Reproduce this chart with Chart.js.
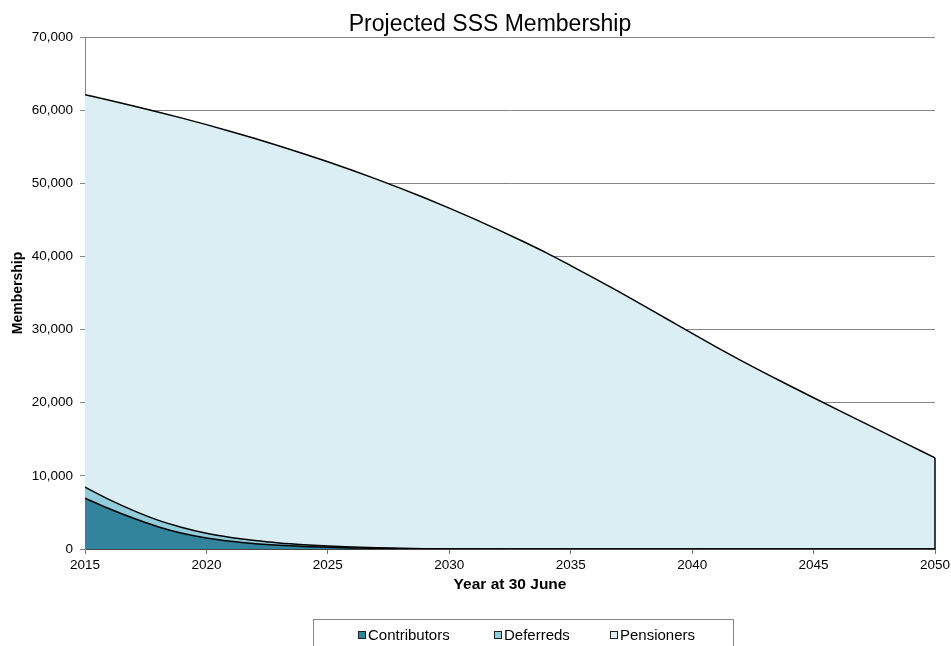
<!DOCTYPE html>
<html>
<head>
<meta charset="utf-8">
<script src="https://cdn.jsdelivr.net/npm/chart.js@4.4.1/dist/chart.umd.min.js"></script>
<style>
    html, body { margin: 0; padding: 0; background: #fff; overflow: hidden; }
    #wrap { position: relative; width: 951px; height: 646px; font-family: 'Liberation Sans', Arial, sans-serif; }
    #title { position: absolute; left: 0; top: 10px; width: 980px; text-align: center; font-size: 23px; color: #000; }
    #legend { position: absolute; left: 313px; top: 619px; width: 421px; height: 40px; border: 1px solid #888; box-sizing: border-box; font-size: 15px; }
    .item { position: absolute; top: 6px; display: flex; align-items: center; }
    .swatch { width: 6px; height: 6px; border: 1px solid #222; margin-right: 2px; }
</style>
</head>
<body>
<div id="wrap">
    <canvas id="chart" width="951" height="646"></canvas>
    <div id="title">Projected SSS Membership</div>
    <div id="legend"></div>
</div>
<script>
// Data (members at 30 June)
const years = [2015, 2016, 2017, 2018, 2019, 2020, 2021, 2022, 2023, 2024, 2025, 2026, 2027, 2028, 2029, 2030,
    2031, 2032, 2033, 2034, 2035, 2036, 2037, 2038, 2039, 2040, 2041, 2042, 2043, 2044, 2045, 2046, 2047, 2048, 2049, 2050];

const contributors = [6950, 5500, 4200, 3050, 2150, 1500, 1050, 730, 500, 340, 225, 145, 90, 50, 25, 10,
    0, 0, 0, 0, 0, 0, 0, 0, 0, 0, 0, 0, 0, 0, 0, 0, 0, 0, 0, 0];

const deferreds = [1500, 1250, 1050, 900, 800, 650, 530, 420, 330, 250, 175, 115, 75, 45, 20, 10,
    0, 0, 0, 0, 0, 0, 0, 0, 0, 0, 0, 0, 0, 0, 0, 0, 0, 0, 0, 0];

// Total membership line, pensioners are the remainder
const totals = [62100, 61350, 60570, 59760, 58910, 58020, 57090, 56120, 55110, 54050, 52940, 51780, 50570, 49310, 47990, 46610,
    45170, 43670, 42110, 40490, 38750, 36970, 35150, 33280, 31380, 29480, 27610, 25800, 24050, 22350, 20680, 19020, 17370, 15730, 14100, 12470];

const pensioners = totals.map((t, i) => t - contributors[i] - deferreds[i]);

const yTicks = { min: 0, max: 70000, step: 10000 };
const xTicks = { min: 2015, max: 2050, step: 5 };

const seriesNames = ['Contributors', 'Deferreds', 'Pensioners'];
const seriesColors = ['#31849b', '#92cddc', '#daeef3'];
const seriesValues = [contributors, deferreds, pensioners];

const FONT = "'Liberation Sans', Arial, sans-serif";

// Excel closes the area with a vertical edge at the last year
const rightEdge = {
    id: 'rightEdge',
    afterDatasetsDraw(chart) {
        const { ctx, scales } = chart;
        const last = years.length - 1;
        const x = scales.x.getPixelForValue(years[last]);
        const y0 = scales.y.getPixelForValue(0);
        const y1 = scales.y.getPixelForValue(totals[last]);
        ctx.save();
        ctx.strokeStyle = '#000';
        ctx.lineWidth = 1.5;
        ctx.beginPath();
        ctx.moveTo(x, y0);
        ctx.lineTo(x, y1);
        ctx.stroke();
        ctx.restore();
    }
};

const datasets = seriesNames.map((name, i) => ({
    label: name,
    data: years.map((yr, j) => ({ x: yr, y: seriesValues[i][j] })),
    backgroundColor: seriesColors[i],
    borderColor: '#000',
    borderWidth: 1.5,
    pointRadius: 0,
    cubicInterpolationMode: 'monotone',
    fill: i === 0 ? 'origin' : '-1'
}));

new Chart(document.getElementById('chart'), {
    type: 'line',
    data: { datasets },
    plugins: [rightEdge],
    options: {
        responsive: false,
        animation: false,
        layout: { padding: { top: 37, right: 16, bottom: 51, left: 0 } },
        plugins: {
            legend: { display: false },
            title: { display: false },
            tooltip: { enabled: false }
        },
        scales: {
            x: {
                type: 'linear',
                min: xTicks.min,
                max: xTicks.max,
                afterFit: (s) => {
                    s.height = 46;
                    // let the last tick label spill into the right padding
                    s.paddingLeft = 0;
                    s.paddingRight = 0;
                },
                ticks: {
                    stepSize: xTicks.step,
                    color: '#000',
                    padding: 3,
                    maxRotation: 0,
                    font: { family: FONT, size: 13.5 },
                    callback: (v) => String(v)
                },
                grid: { drawOnChartArea: false, drawTicks: true, tickLength: 5, color: '#777' },
                border: { display: true, color: '#444', width: 1 },
                title: {
                    display: true,
                    text: 'Year at 30 June',
                    color: '#000',
                    font: { family: FONT, size: 15.5, weight: 'bold' },
                    padding: { top: 4, bottom: 1 }
                }
            },
            y: {
                stacked: true,
                min: yTicks.min,
                max: yTicks.max,
                afterFit: (s) => { s.width = 85; },
                ticks: {
                    stepSize: yTicks.step,
                    color: '#000',
                    padding: 7,
                    font: { family: FONT, size: 13.5 },
                    callback: (v) => v.toLocaleString('en-US')
                },
                grid: { color: '#868686', lineWidth: 1, drawTicks: true, tickLength: 5 },
                border: { display: true, color: '#868686', width: 1 },
                title: {
                    display: true,
                    text: 'Membership',
                    color: '#000',
                    font: { family: FONT, size: 14, weight: 'bold' },
                    padding: { top: 10, bottom: 0 }
                }
            }
        }
    }
});

// HTML legend built from the series
const legend = document.getElementById('legend');
const itemLeft = [44, 180, 296];
seriesNames.forEach((name, i) => {
    const item = document.createElement('div');
    item.className = 'item';
    item.style.left = itemLeft[i] + 'px';
    const sw = document.createElement('span');
    sw.className = 'swatch';
    sw.style.background = seriesColors[i];
    const label = document.createElement('span');
    label.textContent = name;
    item.appendChild(sw);
    item.appendChild(label);
    legend.appendChild(item);
});
</script>
</body>
</html>
